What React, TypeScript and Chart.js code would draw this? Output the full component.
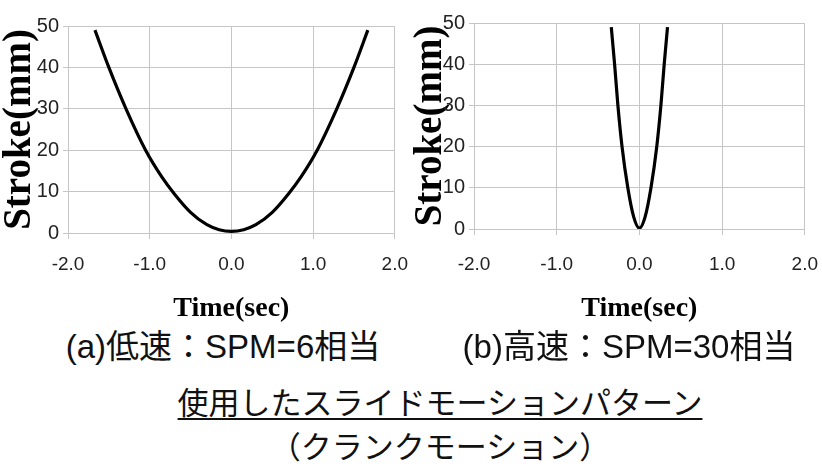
import React, { useEffect, useRef } from "react";
import { Chart, registerables } from "chart.js";

Chart.register(...registerables);

// (a) low speed: SPM=6
const lowTime = [-1.67, -1.5, -1.29, -1.05, -0.85, -0.7, -0.5, -0.3, -0.15, 0, 0.15, 0.3, 0.5, 0.7, 0.85, 1.05, 1.29, 1.5, 1.67];
const lowStroke = [49, 40, 30, 20, 13.5, 9.5, 5, 2, 0.8, 0.4, 0.8, 2, 5, 9.5, 13.5, 20, 30, 40, 49];

// (b) high speed: SPM=30
const highTime = [-0.34, -0.3, -0.26, -0.21, -0.14, -0.07, 0, 0.07, 0.14, 0.21, 0.26, 0.3, 0.34];
const highStroke = [49, 40, 30, 20, 10, 3, 0.2, 3, 10, 20, 30, 40, 49];

const xTickValues = [-2, -1, 0, 1, 2];
const xTickLabels = ["-2.0", "-1.0", "0.0", "1.0", "2.0"];
const yTickValues = [0, 10, 20, 30, 40, 50];
const yTickLabels = ["0", "10", "20", "30", "40", "50"];

const xTitle = "Time(sec)";
const yTitle = "Stroke(mm)";
const lowLabel = "(a)低速：SPM=6相当";
const highLabel = "(b)高速：SPM=30相当";
const captionLine1 = "使用したスライドモーションパターン";
const captionLine2 = "（クランクモーション）";

const GRID = "#c6c6c6";
const TICK_FONT = "'Liberation Sans Narrow', 'Liberation Sans', sans-serif";
const SERIF = "'Liberation Serif', 'Times New Roman', serif";

type Geom = { top: number; right: number; yWidth: number; xHeight: number; xPad: number };

function buildConfig(time: number[], stroke: number[], g: Geom): any {
  return {
    type: "line",
    data: {
      datasets: [
        {
          data: time.map((t, i) => ({ x: t, y: stroke[i] })),
          borderColor: "#000",
          borderWidth: 3.2,
          pointRadius: 0,
          cubicInterpolationMode: "monotone",
          fill: false,
        },
      ],
    },
    options: {
      responsive: false,
      animation: false,
      events: [],
      layout: { padding: { left: 0, top: g.top, right: g.right, bottom: 0 } },
      plugins: { legend: { display: false }, tooltip: { enabled: false }, title: { display: false } },
      scales: {
        x: {
          type: "linear",
          min: xTickValues[0],
          max: xTickValues[xTickValues.length - 1],
          afterBuildTicks: (s: any) => {
            s.ticks = xTickValues.map((v) => ({ value: v }));
          },
          afterFit: (s: any) => {
            s.height = g.xHeight;
          },
          ticks: {
            autoSkip: false,
            maxRotation: 0,
            padding: g.xPad,
            color: "#222",
            font: { family: TICK_FONT, size: 19 },
            callback: (_v: any, i: number) => xTickLabels[i],
          },
          grid: { color: GRID, lineWidth: 1, tickLength: 6, tickColor: GRID },
          border: { color: GRID, width: 1 },
          title: {
            display: true,
            text: xTitle,
            color: "#000",
            font: { family: SERIF, size: 28, weight: "bold", lineHeight: 1.2 },
            padding: { top: 0, bottom: 0 },
          },
        },
        y: {
          type: "linear",
          min: yTickValues[0],
          max: yTickValues[yTickValues.length - 1],
          afterBuildTicks: (s: any) => {
            s.ticks = yTickValues.map((v) => ({ value: v }));
          },
          afterFit: (s: any) => {
            s.width = g.yWidth;
          },
          ticks: {
            autoSkip: false,
            padding: 4,
            color: "#222",
            font: { family: TICK_FONT, size: 20 },
            callback: (_v: any, i: number) => yTickLabels[i],
          },
          grid: { color: GRID, lineWidth: 1, tickLength: 5, tickColor: GRID },
          border: { color: GRID, width: 1 },
          title: {
            display: true,
            text: yTitle,
            color: "#000",
            font: { family: SERIF, size: 39, weight: "bold", lineHeight: 1.0 },
            padding: { top: 0, bottom: 0 },
          },
        },
      },
    },
  };
}

function ChartCanvas(props: {
  time: number[];
  stroke: number[];
  geom: Geom;
  left: number;
  width: number;
  height: number;
}) {
  const ref = useRef<HTMLCanvasElement | null>(null);
  useEffect(() => {
    if (!ref.current) return;
    const chart = new Chart(ref.current, buildConfig(props.time, props.stroke, props.geom));
    return () => chart.destroy();
  }, []);
  return (
    <canvas
      ref={ref}
      width={props.width}
      height={props.height}
      style={{ position: "absolute", left: props.left, top: 0, width: props.width, height: props.height }}
    />
  );
}

const labelStyle: React.CSSProperties = {
  position: "absolute",
  textAlign: "center",
  whiteSpace: "nowrap",
  color: "#111",
  fontFamily: "'Liberation Sans', 'Noto Sans CJK JP', sans-serif",
  fontSize: 33,
  lineHeight: "40px",
  height: 40,
};

const captionStyle: React.CSSProperties = {
  position: "absolute",
  textAlign: "center",
  whiteSpace: "nowrap",
  color: "#111",
  fontFamily: "'Noto Sans CJK JP', sans-serif",
  fontSize: 31,
  lineHeight: "40px",
  height: 40,
  left: 140,
  width: 600,
};

export default function App() {
  return (
    <div
      style={{
        position: "absolute",
        left: 0,
        top: 0,
        width: 822,
        height: 467,
        overflow: "hidden",
        background: "#fff",
      }}
    >
      <ChartCanvas
        time={lowTime}
        stroke={lowStroke}
        geom={{ top: 26, right: 20, yWidth: 68, xHeight: 93, xPad: 14 }}
        left={0}
        width={422}
        height={326}
      />
      <ChartCanvas
        time={highTime}
        stroke={highStroke}
        geom={{ top: 23, right: 25, yWidth: 63, xHeight: 97, xPad: 18 }}
        left={411}
        width={425}
        height={326}
      />
      <div style={{ ...labelStyle, left: 23, width: 400, top: 327 }}>{lowLabel}</div>
      <div style={{ ...labelStyle, left: 429, width: 400, top: 327 }}>{highLabel}</div>
      <div style={{ ...captionStyle, top: 381 }}>
        <span style={{ textDecoration: "underline", textDecorationThickness: 2, textUnderlineOffset: 4 }}>
          {captionLine1}
        </span>
      </div>
      <div style={{ ...captionStyle, top: 425 }}>{captionLine2}</div>
    </div>
  );
}
